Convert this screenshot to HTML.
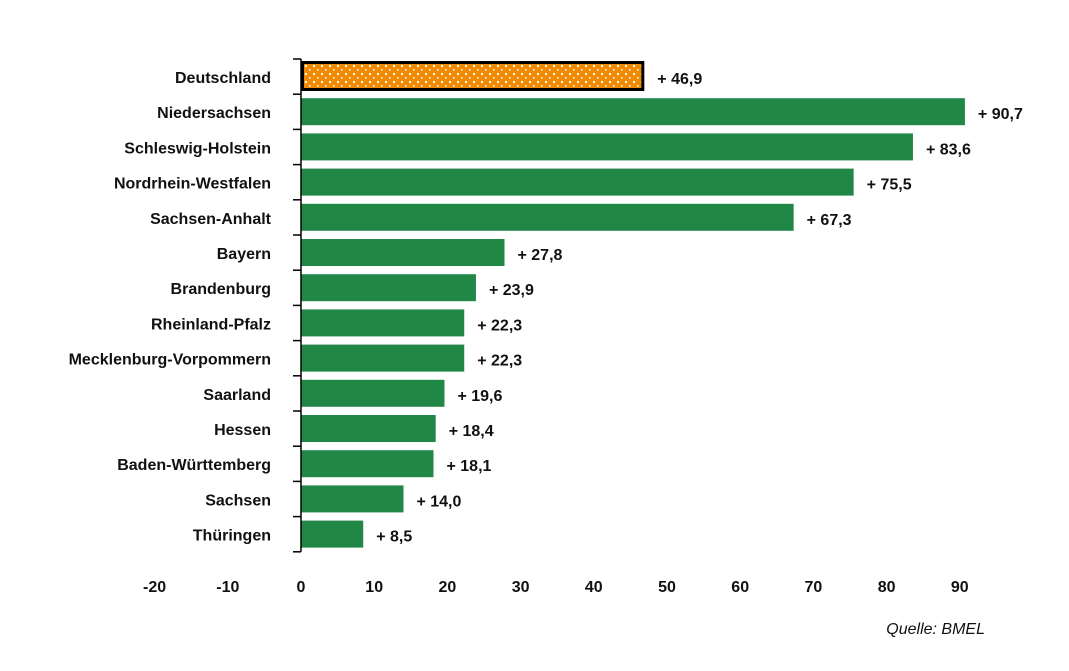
<!DOCTYPE html>
<html><head><meta charset="utf-8"><style>
html,body{margin:0;padding:0;background:#fff;}
svg{display:block;font-family:"Liberation Sans",sans-serif;}
</style></head><body>
<svg id="chart" width="1069" height="671" viewBox="0 0 1069 671">
<defs>
<pattern id="dots" width="8" height="8" patternUnits="userSpaceOnUse">
<rect width="8" height="8" fill="#f08a00"/>
<rect x="1" y="1" width="2" height="2" fill="#fff"/>
<rect x="5" y="5" width="1.5" height="1.5" fill="#fff"/>
</pattern>
</defs>
<g id="bars"></g>
<text x="985" y="634" text-anchor="end" font-size="16" font-style="italic" fill="#111">Quelle: BMEL</text>
</svg>
<script>
const categories = ["Deutschland","Niedersachsen","Schleswig-Holstein","Nordrhein-Westfalen","Sachsen-Anhalt","Bayern","Brandenburg","Rheinland-Pfalz","Mecklenburg-Vorpommern","Saarland","Hessen","Baden-Württemberg","Sachsen","Thüringen"];
const values = [46.9,90.7,83.6,75.5,67.3,27.8,23.9,22.3,22.3,19.6,18.4,18.1,14.0,8.5];
const xTicks = [-20,-10,0,10,20,30,40,50,60,70,80,90];

const NS = "http://www.w3.org/2000/svg";
const g = document.getElementById('bars');
const x0 = 301, unit = 7.32, top0 = 59, pitch = 35.2;
const xs = v => x0 + v * unit;
const rowTop = i => top0 + i * pitch;
function mk(tag, attrs){const e=document.createElementNS(NS,tag);for(const k in attrs)e.setAttribute(k,attrs[k]);g.appendChild(e);return e;}

categories.forEach((c,i)=>{
  const t = rowTop(i), v = values[i];
  let bar;
  if(i===0){
    bar = mk('rect',{x:xs(0)+1.5,y:t+3.5,width:xs(v)-xs(0)-3,height:27,fill:'url(#dots)',stroke:'#000','stroke-width':3});
  } else {
    bar = mk('rect',{x:xs(0),y:t+4,width:xs(v)-xs(0),height:27,fill:'#218746'});
  }
  
  
  const lab = mk('text',{x:271,y:t+24,'text-anchor':'end','font-size':16,'font-weight':'bold',fill:'#111'});
  lab.textContent = c;
  
  
  const val = mk('text',{x:xs(v)+13,y:t+25,'font-size':16,'font-weight':'bold',fill:'#111','xml:space':'preserve'});
  val.textContent = (v<10?'+  ':'+ ') + v.toFixed(1).replace('.',',');
  
  
});

const axis = mk('line',{x1:x0,y1:top0,x2:x0,y2:rowTop(categories.length),stroke:'#000','stroke-width':1.5});


for(let i=0;i<=categories.length;i++){
  const tk = mk('line',{x1:x0-8,y1:rowTop(i),x2:x0,y2:rowTop(i),stroke:'#000','stroke-width':1.5});
  
  
}
xTicks.forEach(v=>{
  const t = mk('text',{x:xs(v),y:592,'text-anchor':'middle','font-size':16,'font-weight':'bold',fill:'#111'});
  t.textContent = v;
  
  
});
</script>
</body></html>
